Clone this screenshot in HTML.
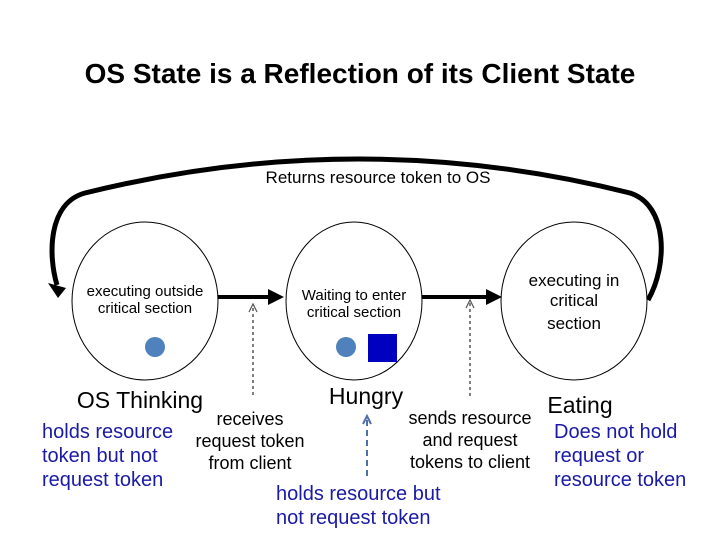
<!DOCTYPE html>
<html><head><meta charset="utf-8"><style>
body{margin:0;background:#fff;}
svg{display:block;font-family:"Liberation Sans",sans-serif;}
</style></head><body>
<svg width="720" height="540" viewBox="0 0 720 540">
<text x="360" y="83" font-size="28" font-weight="bold" text-anchor="middle">OS State is a Reflection of its Client State</text>
<path d="M648 300 C 668 265, 668 205, 630 193 Q 360 125, 85 193 C 48 203, 48 255, 57 285" fill="none" stroke="#000" stroke-width="5"/>
<path d="M48 283 L66 288 L58 298 z" fill="#000"/>
<text x="378" y="183" font-size="17" text-anchor="middle">Returns resource token to OS</text>
<ellipse cx="145" cy="301" rx="73" ry="79" fill="#fff" stroke="#000" stroke-width="1"/>
<ellipse cx="354" cy="301" rx="68" ry="79" fill="#fff" stroke="#000" stroke-width="1"/>
<ellipse cx="574" cy="301" rx="73" ry="79" fill="#fff" stroke="#000" stroke-width="1"/>
<g font-size="15" text-anchor="middle">
<text x="145" y="296">executing outside</text><text x="145" y="313">critical section</text>
<text x="354" y="300">Waiting to enter</text><text x="354" y="317">critical section</text>
<text x="574" y="286" font-size="17">executing in</text><text x="574" y="306" font-size="17">critical</text><text x="574" y="329" font-size="17">section</text>
</g>
<circle cx="155" cy="347" r="10" fill="#4f81bd"/>
<circle cx="346" cy="347" r="10" fill="#4f81bd"/>
<rect x="368" y="334" width="29" height="28" fill="#0000c0"/>
<line x1="218" y1="297" x2="272" y2="297" stroke="#000" stroke-width="4"/>
<path d="M268 289 L284 297 L268 305 z" fill="#000"/>
<line x1="422" y1="297" x2="490" y2="297" stroke="#000" stroke-width="4"/>
<path d="M486 289 L502 297 L486 305 z" fill="#000"/>
<line x1="253" y1="308" x2="253" y2="398" stroke="#555" stroke-width="1.5" stroke-dasharray="3,3"/>
<path d="M249 312 L253 304 L257 312" fill="none" stroke="#555" stroke-width="1.2"/>
<line x1="470" y1="303" x2="470" y2="398" stroke="#555" stroke-width="1.5" stroke-dasharray="3,3"/>
<path d="M466 308 L470 300 L474 308" fill="none" stroke="#555" stroke-width="1.2"/>
<line x1="367" y1="476" x2="367" y2="420" stroke="#4f6fa8" stroke-width="2" stroke-dasharray="6,4"/>
<path d="M363 424 L367 416 L371 424" fill="none" stroke="#4f6fa8" stroke-width="2"/>
<g font-size="23" text-anchor="middle">
<text x="140" y="408">OS Thinking</text>
<text x="366" y="404">Hungry</text>
<text x="580" y="413">Eating</text>
</g>
<g font-size="18" text-anchor="middle">
<text x="250" y="425">receives</text><text x="250" y="447">request token</text><text x="250" y="469">from client</text>
<text x="470" y="424">sends resource</text><text x="470" y="446">and request</text><text x="470" y="468">tokens to client</text>
</g>
<g font-size="20" fill="#1a1aa6">
<text x="42" y="438">holds resource</text><text x="42" y="462">token but not</text><text x="42" y="486">request token</text>
<text x="554" y="438">Does not hold</text><text x="554" y="462">request or</text><text x="554" y="486">resource token</text>
<text x="276" y="500">holds resource but</text><text x="276" y="524">not request token</text>
</g>
</svg>
</body></html>
